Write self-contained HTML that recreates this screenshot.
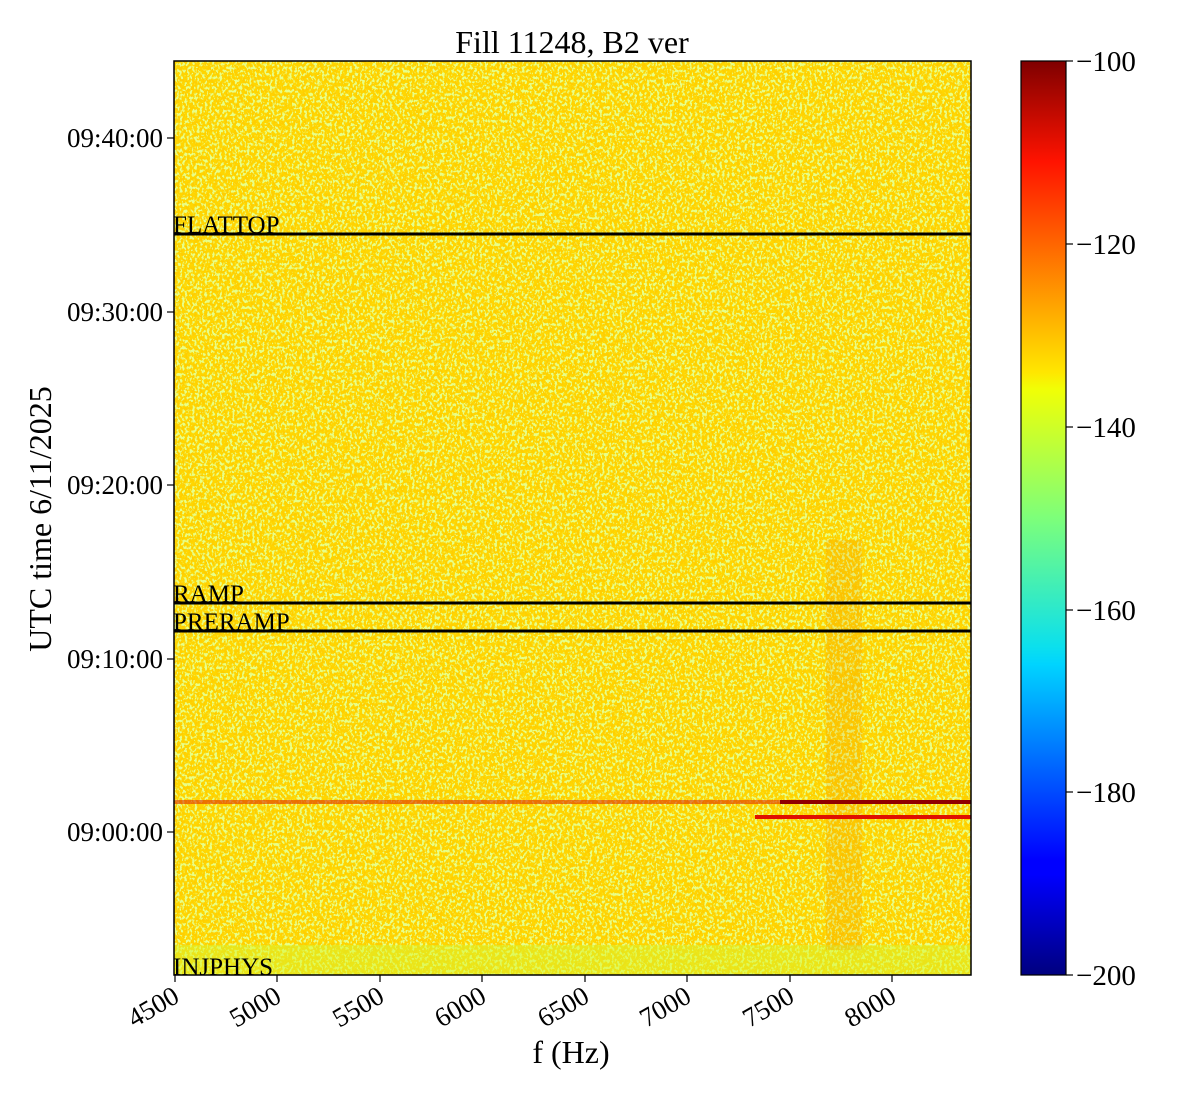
<!DOCTYPE html>
<html><head><meta charset="utf-8"><style>body{margin:0;background:#fff}svg{display:block}</style></head><body>
<svg width="1200" height="1100" xmlns="http://www.w3.org/2000/svg" font-family="Liberation Serif, serif">
<defs>
<filter id="n" x="0" y="0" width="100%" height="100%">
<feTurbulence type="fractalNoise" baseFrequency="0.35 0.28" numOctaves="2" seed="3" result="t"/>
<feColorMatrix in="t" type="matrix" values="0 0 0 0 1  0 0 0 0 0.62  0 0 0 0 0  0 0 0 9 -4.3"/>
<feComposite in2="SourceGraphic" operator="in"/>
</filter>
<filter id="g" x="0" y="0" width="100%" height="100%">
<feTurbulence type="fractalNoise" baseFrequency="0.4 0.3" numOctaves="2" seed="17" result="t"/>
<feColorMatrix in="t" type="matrix" values="0 0 0 0 0.8  0 0 0 0 1  0 0 0 0 0.25  0 0 0 9 -4.6"/>
<feComposite in2="SourceGraphic" operator="in"/>
</filter>
<linearGradient id="cb" x1="0" y1="1" x2="0" y2="0">
<stop offset="0" stop-color="#00007f"/><stop offset="0.11" stop-color="#0000ff"/>
<stop offset="0.125" stop-color="#0000ff"/><stop offset="0.34" stop-color="#00d4ff"/>
<stop offset="0.36" stop-color="#0ce0ec"/><stop offset="0.5" stop-color="#7dff7a"/>
<stop offset="0.64" stop-color="#f0ff06"/><stop offset="0.66" stop-color="#ffe600"/>
<stop offset="0.89" stop-color="#ff1300"/><stop offset="1" stop-color="#7f0000"/>
</linearGradient>
</defs>
<text x="572" y="53" font-size="32" text-anchor="middle">Fill 11248, B2 ver</text>
<rect x="174" y="61" width="797" height="914" fill="#ffd600"/>
<rect x="174" y="61" width="797" height="914" fill="#fff" filter="url(#n)"/>
<rect x="174" y="61" width="797" height="914" fill="#fff" filter="url(#g)"/>
<rect x="174" y="945" width="797" height="30" fill="#d8f530" opacity="0.5"/>
<rect x="826" y="540" width="36" height="410" fill="#f08a00" opacity="0.18"/>
<rect x="174" y="800" width="797" height="4" fill="#e03000" opacity="0.6"/>
<rect x="780" y="800" width="191" height="4" fill="#900000"/>
<rect x="755" y="815" width="216" height="4" fill="#e01000"/>
<g stroke="#000" stroke-width="3"><line x1="174" y1="234" x2="971" y2="234"/><line x1="174" y1="603" x2="971" y2="603"/><line x1="174" y1="631" x2="971" y2="631"/></g>
<g font-size="25"><text x="173" y="233">FLATTOP</text><text x="173" y="602">RAMP</text><text x="173" y="630">PRERAMP</text><text x="173" y="975">INJPHYS</text></g>
<rect x="174" y="61" width="797" height="914" fill="none" stroke="#000" stroke-width="1.5"/>
<g stroke="#000" stroke-width="1.2">
<line x1="174" y1="138" x2="167" y2="138"/><line x1="174" y1="312" x2="167" y2="312"/><line x1="174" y1="485" x2="167" y2="485"/><line x1="174" y1="659" x2="167" y2="659"/><line x1="174" y1="832" x2="167" y2="832"/>
<line x1="175" y1="975" x2="175" y2="982"/><line x1="277" y1="975" x2="277" y2="982"/><line x1="380" y1="975" x2="380" y2="982"/><line x1="482" y1="975" x2="482" y2="982"/><line x1="585" y1="975" x2="585" y2="982"/><line x1="687" y1="975" x2="687" y2="982"/><line x1="790" y1="975" x2="790" y2="982"/><line x1="892" y1="975" x2="892" y2="982"/>
</g>
<g font-size="27" text-anchor="end">
<text x="163" y="147">09:40:00</text><text x="163" y="321">09:30:00</text><text x="163" y="494">09:20:00</text><text x="163" y="668">09:10:00</text><text x="163" y="841">09:00:00</text>
<text transform="translate(181,1001) rotate(-30)">4500</text><text transform="translate(283,1001) rotate(-30)">5000</text><text transform="translate(386,1001) rotate(-30)">5500</text><text transform="translate(488,1001) rotate(-30)">6000</text><text transform="translate(591,1001) rotate(-30)">6500</text><text transform="translate(693,1001) rotate(-30)">7000</text><text transform="translate(796,1001) rotate(-30)">7500</text><text transform="translate(898,1001) rotate(-30)">8000</text>
</g>
<text x="571" y="1063" font-size="32" text-anchor="middle">f (Hz)</text>
<text transform="translate(51,519) rotate(-90)" font-size="32" text-anchor="middle">UTC time 6/11/2025</text>
<rect x="1021" y="61" width="45" height="914" fill="url(#cb)" stroke="#000" stroke-width="1.2"/>
<g stroke="#000" stroke-width="1.2"><line x1="1066" y1="61" x2="1073" y2="61"/><line x1="1066" y1="244" x2="1073" y2="244"/><line x1="1066" y1="427" x2="1073" y2="427"/><line x1="1066" y1="610" x2="1073" y2="610"/><line x1="1066" y1="792" x2="1073" y2="792"/><line x1="1066" y1="975" x2="1073" y2="975"/></g>
<g font-size="29"><text x="1076" y="71">−100</text><text x="1076" y="254">−120</text><text x="1076" y="437">−140</text><text x="1076" y="620">−160</text><text x="1076" y="802">−180</text><text x="1076" y="985">−200</text></g>
</svg>
</body></html>
